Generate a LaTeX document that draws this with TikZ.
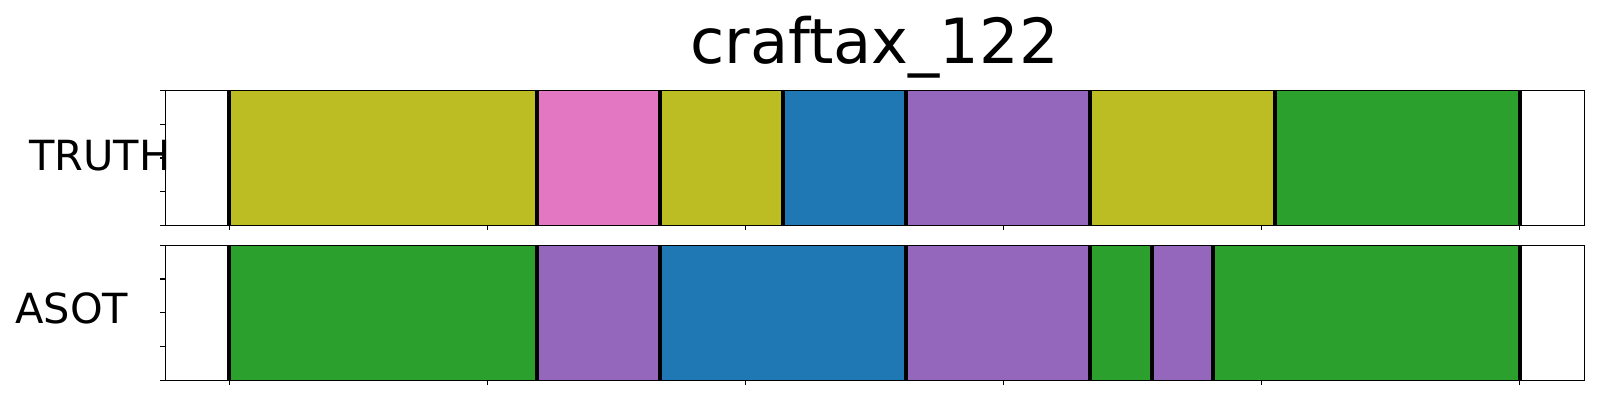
\documentclass[tikz,border=0pt]{standalone}
\usepackage{fontspec}
\setmainfont{DejaVu Sans}
\usepackage{xcolor}
\definecolor{tabolive}{HTML}{BCBD22}
\definecolor{tabpink}{HTML}{E377C2}
\definecolor{tabblue}{HTML}{1F77B4}
\definecolor{tabpurple}{HTML}{9467BD}
\definecolor{tabgreen}{HTML}{2CA02C}
\tikzset{
	panelframe/.style={draw=black, line width=0.8pt},
	segline/.style={draw=black, line width=2.9pt},
	tickmark/.style={draw=black, line width=0.8pt},
	rowlabel/.style={anchor=base west, inner sep=0pt, font=\fontsize{30}{36}\selectfont}
}
\begin{document}
\begin{tikzpicture}[x=0.01in, y=-0.01in]
	\useasboundingbox (0,0) rectangle (1600,400);
	\node (title) at (874.5,63.3)[anchor=base, inner sep=0pt, font=\fontsize{45}{54}\selectfont]{craftax\_122};
	\node (truth) at (29,170)[rowlabel]{TRUTH};
	\node (asot) at (15,323.3)[rowlabel]{ASOT};
	\fill[tabolive] (229.3,90.7) rectangle (536.8,225.3);
	\fill[tabpink] (536.8,90.7) rectangle (660,225.3);
	\fill[tabolive] (660,90.7) rectangle (783.2,225.3);
	\fill[tabblue] (783.2,90.7) rectangle (905.7,225.3);
	\fill[tabpurple] (905.7,90.7) rectangle (1089.9,225.3);
	\fill[tabolive] (1089.9,90.7) rectangle (1274.9,225.3);
	\fill[tabgreen] (1274.9,90.7) rectangle (1519.8,225.3);
	\fill[tabgreen] (229.3,245.3) rectangle (536.8,380.3);
	\fill[tabpurple] (536.8,245.3) rectangle (660,380.3);
	\fill[tabblue] (660,245.3) rectangle (905.7,380.3);
	\fill[tabpurple] (905.7,245.3) rectangle (1089.9,380.3);
	\fill[tabgreen] (1089.9,245.3) rectangle (1151.9,380.3);
	\fill[tabpurple] (1151.9,245.3) rectangle (1212.9,380.3);
	\fill[tabgreen] (1212.9,245.3) rectangle (1519.8,380.3);
	\draw[segline] (229.3,90.7) -- (229.3,225.3) (536.8,90.7) -- (536.8,225.3) (660,90.7) -- (660,225.3) (783.2,90.7) -- (783.2,225.3) (905.7,90.7) -- (905.7,225.3) (1089.9,90.7) -- (1089.9,225.3) (1274.9,90.7) -- (1274.9,225.3) (1519.8,90.7) -- (1519.8,225.3);
	\draw[segline] (229.3,245.3) -- (229.3,380.3) (536.8,245.3) -- (536.8,380.3) (660,245.3) -- (660,380.3) (905.7,245.3) -- (905.7,380.3) (1089.9,245.3) -- (1089.9,380.3) (1151.9,245.3) -- (1151.9,380.3) (1212.9,245.3) -- (1212.9,380.3) (1519.8,245.3) -- (1519.8,380.3);
	\draw[panelframe] (165.3,90.7) rectangle (1584.3,225.3);
	\draw[panelframe] (165.3,245.3) rectangle (1584.3,380.3);
	\draw[tickmark] (160.4,90.7) -- (165.3,90.7) (160.4,124.3) -- (165.3,124.3) (160.4,158) -- (165.3,158) (160.4,191.6) -- (165.3,191.6) (160.4,225.3) -- (165.3,225.3);
	\draw[tickmark] (160.4,245.3) -- (165.3,245.3) (160.4,279) -- (165.3,279) (160.4,312.8) -- (165.3,312.8) (160.4,346.5) -- (165.3,346.5) (160.4,380.3) -- (165.3,380.3);
	\draw[tickmark] (229.3,225.3) -- (229.3,230.2) (487.4,225.3) -- (487.4,230.2) (745.5,225.3) -- (745.5,230.2) (1003.6,225.3) -- (1003.6,230.2) (1261.7,225.3) -- (1261.7,230.2) (1519.8,225.3) -- (1519.8,230.2);
	\draw[tickmark] (229.3,380.3) -- (229.3,385.2) (487.4,380.3) -- (487.4,385.2) (745.5,380.3) -- (745.5,385.2) (1003.6,380.3) -- (1003.6,385.2) (1261.7,380.3) -- (1261.7,385.2) (1519.8,380.3) -- (1519.8,385.2);
\end{tikzpicture}
\end{document}
